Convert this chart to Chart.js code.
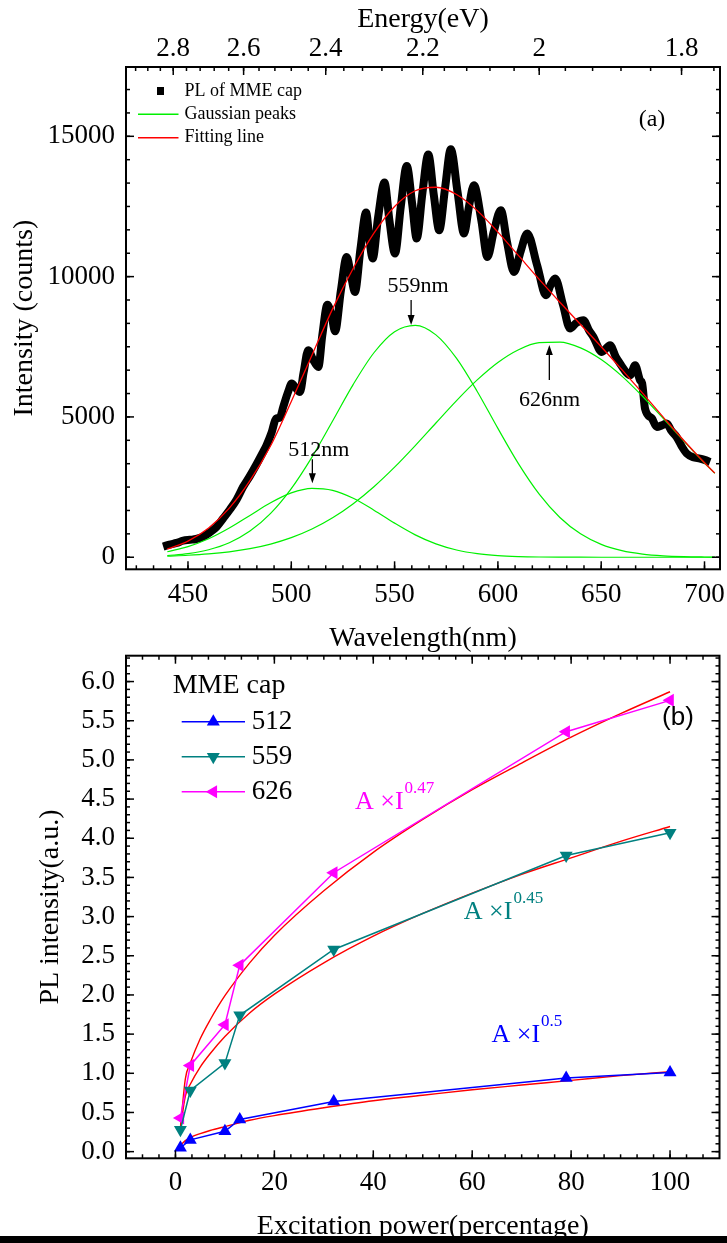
<!DOCTYPE html>
<html>
<head>
<meta charset="utf-8">
<script src="https://cdn.jsdelivr.net/npm/chart.js@4.4.1/dist/chart.umd.min.js"></script>
<style>
  html, body { margin: 0; padding: 0; background: #fff; }
  body { width: 727px; height: 1243px; position: relative; overflow: hidden; }
  #chartA { position: absolute; left: 0; top: 0; }
  #chartB { position: absolute; left: 0; top: 640px; }
  #edge { position: absolute; left: 0; top: 1236px; width: 727px; height: 7px; background: #000; }
</style>
</head>
<body>
<canvas id="chartA" width="727" height="660"></canvas>
<canvas id="chartB" width="727" height="603"></canvas>
<div id="edge"></div>
<script>
// ---- panel (a): PL spectrum and gaussian fit ----
const plWl = [438, 441, 444.5, 447.7, 451, 454, 457.4, 460.5, 463.8, 467, 470.3, 473.5, 476.7, 480, 483.2, 486, 488,
  490.5, 492.6, 494.5, 496.1, 498.5, 500.2, 502, 504.2, 506, 508.2, 510.5, 513.1, 515, 517.5, 519.5, 521.2, 524,
  526.8, 529, 530.8, 533.5, 536.2, 538, 539.4, 542, 545.1, 547.5, 550.2, 553, 555.9, 558.5, 560.7, 563.5, 566.3,
  569, 571.6, 574.5, 577.2, 580.5, 583.6, 586, 588.4, 592, 594.9, 598, 601.4, 604.5, 607.8, 611, 614.2, 619, 623.3,
  625.5, 627.7, 631.5, 634.9, 638, 641.4, 644, 646.2, 650.3, 654.3, 657, 659.1, 662, 664, 666.4, 668.8, 669.8,
  671.2, 674.5, 676.9, 679.3, 681.7, 684, 686.5, 689, 691.4, 694.5, 697.8, 700, 702.7];
const plCounts = [380, 450, 510, 590, 620, 650, 735, 880, 1080, 1380, 1700, 2050, 2510, 2900, 3315, 3700, 3990,
  4450, 4940, 4980, 5357, 5900, 6190, 6050, 5890, 6600, 7377, 7050, 6782, 7900, 9000, 8600, 8050, 9500,
  10700, 10000, 9455, 11000, 12284, 11200, 10645, 12100, 13353, 12000, 10823, 12500, 13945, 12600, 11358, 13000, 14352,
  12900, 11654, 13200, 14540, 13000, 11536, 12500, 13257, 12000, 10702, 11600, 12366, 11200, 10168, 10900, 11536, 10400, 9337,
  9700, 9932, 9000, 8150, 8350, 8446, 8100, 7851, 7316, 7555, 7150, 6903, 6600, 6486, 6842, 6308, 6200,
  5300, 4950, 4644, 4700, 4765, 4500, 4287, 3950, 3696, 3560, 3517, 3470, 3396];

const fitWl = [440, 450, 460, 470, 480, 490, 500, 510, 520, 530, 540, 550, 560, 570, 580, 590, 600, 610, 620, 630,
  640, 650, 660, 670, 680, 690, 700, 705];
const fitCounts = [295, 576, 1044, 1750, 2728, 3973, 5550, 7200, 8850, 10300, 11550, 12500, 13060, 13185, 12925, 12352,
  11587, 10746, 9902, 9088, 8296, 7503, 6687, 5847, 4995, 4158, 3366, 2996];
const peak512 = [196, 376, 657, 1039, 1491, 1941, 2292, 2454, 2383, 2100, 1677, 1215, 798, 476, 257, 126, 56, 23, 8, 3,
  1, 0, 0, 0, 0, 0, 0, 0];
const peak559 = [58, 129, 268, 517, 931, 1563, 2446, 3569, 4856, 6161, 7287, 8037, 8265, 7925, 7086, 5907, 4591, 3328,
  2249, 1417, 833, 457, 233, 111, 49, 20, 8, 5];
const peak626 = [41, 71, 119, 194, 306, 469, 697, 1005, 1406, 1907, 2512, 3209, 3978, 4784, 5582, 6319, 6940, 7395,
  7645, 7668, 7462, 7046, 6454, 5736, 4946, 4138, 3358, 2991];

const wlTicks = [450, 500, 550, 600, 650, 700];
const energyTicks = [2.8, 2.6, 2.4, 2.2, 2.0, 1.8];
const energyLabels = ['2.8', '2.6', '2.4', '2.2', '2', '1.8'];
const countTicks = [0, 5000, 10000, 15000];

// ---- panel (b): power dependence ----
const power = [1, 3, 10, 13, 32, 79, 100];
const pl512 = [0.05, 0.15, 0.26, 0.41, 0.64, 0.94, 1.01];
const pl559 = [0.28, 0.78, 1.13, 1.74, 2.58, 3.78, 4.07];
const pl626 = [0.43, 1.10, 1.62, 2.38, 3.56, 5.36, 5.76];

const fitPower = [1, 2, 3, 5, 7, 10, 15, 20, 30, 40, 50, 60, 70, 80, 90, 100];
const fit512 = [0.08, 0.14, 0.18, 0.23, 0.27, 0.32, 0.40, 0.46, 0.56, 0.65, 0.72, 0.79, 0.85, 0.91, 0.97, 1.02];
const fit559 = [0.30, 0.71, 0.86, 1.08, 1.25, 1.47, 1.77, 2.01, 2.41, 2.75, 3.04, 3.30, 3.54, 3.75, 3.96, 4.15];
const fit626 = [0.30, 0.93, 1.13, 1.44, 1.68, 1.99, 2.41, 2.76, 3.33, 3.82, 4.24, 4.62, 4.96, 5.29, 5.59, 5.87];

const powerTicks = [0, 20, 40, 60, 80, 100];
const intensityTicks = [0, 0.5, 1, 1.5, 2, 2.5, 3, 3.5, 4, 4.5, 5, 5.5, 6];

const SERIF = '"Liberation Serif", "Times New Roman", serif';
Chart.defaults.font.family = SERIF;
Chart.defaults.color = '#000';

const pts = (xs, ys) => xs.map((x, i) => ({ x, y: ys[i] }));

function steps(from, to, step) {
  const out = [];
  for (let v = from; v <= to + 1e-9; v += step) out.push(+v.toFixed(4));
  return out;
}

// inward tick marks on all four sides + the box
function frame(sides) {
  return {
    id: 'frame',
    afterDatasetsDraw(chart) {
      const { ctx, chartArea: a } = chart;
      ctx.save();
      ctx.strokeStyle = '#000';
      ctx.lineWidth = 1.5;
      for (const s of sides) {
        const scale = chart.scales[s.scale];
        const mark = (v, len) => {
          const p = scale.getPixelForValue(v);
          ctx.beginPath();
          if (s.edge === 'bottom' || s.edge === 'top') {
            if (p <= a.left + 1 || p >= a.right - 1) return;
            const y0 = s.edge === 'bottom' ? a.bottom : a.top;
            ctx.moveTo(p, y0);
            ctx.lineTo(p, y0 + (s.edge === 'bottom' ? -len : len));
          } else {
            if (p <= a.top + 1 || p >= a.bottom - 1) return;
            const x0 = s.edge === 'left' ? a.left : a.right;
            ctx.moveTo(x0, p);
            ctx.lineTo(x0 + (s.edge === 'left' ? len : -len), p);
          }
          ctx.stroke();
        };
        s.minor.forEach(v => mark(v, 4));
        s.major.forEach(v => mark(v, 8));
      }
      ctx.lineWidth = 2;
      ctx.strokeRect(a.left, a.top, a.right - a.left, a.bottom - a.top);
      ctx.restore();
    }
  };
}

function arrow(ctx, x, y1, y2) {
  const dir = y2 > y1 ? 1 : -1;
  ctx.beginPath();
  ctx.moveTo(x, y1);
  ctx.lineTo(x, y2 - dir * 8);
  ctx.stroke();
  ctx.beginPath();
  ctx.moveTo(x, y2);
  ctx.lineTo(x - 3.5, y2 - dir * 10);
  ctx.lineTo(x + 3.5, y2 - dir * 10);
  ctx.closePath();
  ctx.fill();
}

const noAxisLines = { grid: { display: false, drawTicks: false }, border: { display: false } };
const tickFont = { size: 27 };
const titleFont = { size: 28 };

// ---------------- chart (a) ----------------
const annotateA = {
  id: 'annotateA',
  afterDraw(chart) {
    const { ctx, chartArea: a, scales: { x, y } } = chart;
    const ds = chart.data.datasets;
    ctx.save();
    ctx.fillStyle = '#000';
    ctx.strokeStyle = '#000';
    ctx.lineWidth = 1.3;
    ctx.font = '22px ' + SERIF;
    ctx.textAlign = 'center';
    ctx.textBaseline = 'middle';
    const notes = [
      { text: '559nm', tx: 561.3, ty: 9666, ax: 558, from: 9167, to: 8277 },
      { text: '512nm', tx: 513.3, ty: 3823, ax: 510.2, from: 3492, to: 2637 },
      { text: '626nm', tx: 625, ty: 5605, ax: 624.9, from: 6317, to: 7564 }
    ];
    notes.forEach(n => {
      ctx.fillText(n.text, x.getPixelForValue(n.tx), y.getPixelForValue(n.ty));
      arrow(ctx, x.getPixelForValue(n.ax), y.getPixelForValue(n.from), y.getPixelForValue(n.to));
    });

    // legend
    ctx.font = '18px ' + SERIF;
    ctx.textAlign = 'left';
    const data = ds[4], gauss = ds[1], fit = ds[0];
    const lx = a.left, ly = a.top;
    ctx.fillStyle = data.borderColor;
    ctx.fillRect(lx + 31, ly + 20, 7, 8);
    ctx.lineWidth = 1.5;
    ctx.strokeStyle = gauss.borderColor;
    ctx.beginPath(); ctx.moveTo(lx + 12, ly + 47.3); ctx.lineTo(lx + 52.5, ly + 47.3); ctx.stroke();
    ctx.strokeStyle = fit.borderColor;
    ctx.beginPath(); ctx.moveTo(lx + 12, ly + 70.7); ctx.lineTo(lx + 52.5, ly + 70.7); ctx.stroke();
    ctx.fillStyle = '#000';
    ctx.fillText(data.label, lx + 58.5, ly + 24);
    ctx.fillText(gauss.label, lx + 58.5, ly + 47.3);
    ctx.fillText(fit.label, lx + 58.5, ly + 70.7);

    ctx.font = '24px ' + SERIF;
    ctx.textAlign = 'center';
    ctx.fillText('(a)', a.right - 68, a.top + 53);
    ctx.restore();
  }
};

new Chart(document.getElementById('chartA'), {
  type: 'line',
  data: {
    datasets: [
      { label: 'Fitting line', data: pts(fitWl, fitCounts), borderColor: '#ff0000', borderWidth: 1.3,
        pointRadius: 0, cubicInterpolationMode: 'monotone' },
      { label: 'Gaussian peaks', data: pts(fitWl, peak512), borderColor: '#00f000', borderWidth: 1.2,
        pointRadius: 0, cubicInterpolationMode: 'monotone' },
      { label: 'Gaussian peaks', data: pts(fitWl, peak559), borderColor: '#00f000', borderWidth: 1.2,
        pointRadius: 0, cubicInterpolationMode: 'monotone' },
      { label: 'Gaussian peaks', data: pts(fitWl, peak626), borderColor: '#00f000', borderWidth: 1.2,
        pointRadius: 0, cubicInterpolationMode: 'monotone' },
      { label: 'PL of MME cap', data: pts(plWl, plCounts), borderColor: '#000000', borderWidth: 8,
        borderJoinStyle: 'round', pointRadius: 0, cubicInterpolationMode: 'monotone' }
    ]
  },
  options: {
    responsive: false,
    animation: false,
    devicePixelRatio: 1,
    layout: { padding: { left: 0, right: 7, top: 0, bottom: 0 } },
    plugins: { legend: { display: false }, tooltip: { enabled: false } },
    scales: {
      x: {
        type: 'linear', position: 'bottom', min: 420, max: 707.5, ...noAxisLines,
        afterBuildTicks: s => { s.ticks = wlTicks.map(v => ({ value: v })); },
        afterFit: s => { s.height = 90.7; s.paddingLeft = 0; s.paddingRight = 0; },
        ticks: { padding: 9, font: tickFont, maxRotation: 0, minRotation: 0, autoSkip: false, callback: v => String(v) },
        title: { display: true, text: 'Wavelength(nm)', font: titleFont, padding: { top: 0, bottom: 5 } }
      },
      xTop: {
        type: 'linear', position: 'top', min: 420, max: 707.5, ...noAxisLines,
        afterBuildTicks: s => { s.ticks = energyTicks.map(e => ({ value: 1240 / e })); },
        afterFit: s => { s.height = 67; s.paddingLeft = 0; s.paddingRight = 0; },
        ticks: { padding: 2, font: tickFont, maxRotation: 0, minRotation: 0, autoSkip: false,
          callback: (v, i) => energyLabels[i] },
        title: { display: true, text: 'Energy(eV)', font: titleFont, padding: { top: 3, bottom: 0 } }
      },
      y: {
        type: 'linear', position: 'left', min: -430, max: 17470, ...noAxisLines,
        afterBuildTicks: s => { s.ticks = countTicks.map(v => ({ value: v })); },
        afterFit: s => { s.width = 126; s.paddingTop = 0; s.paddingBottom = 0; },
        ticks: { padding: 11, font: tickFont, autoSkip: false, callback: v => String(v) },
        title: { display: true, text: 'Intensity (counts)', font: titleFont, padding: { top: 8, bottom: 0 } }
      }
    }
  },
  plugins: [
    frame([
      { scale: 'x', edge: 'bottom', major: wlTicks, minor: steps(425, 707, 50 / 6) },
      { scale: 'xTop', edge: 'top', major: energyTicks.map(e => 1240 / e), minor: steps(1.76, 2.92, 0.04).map(e => 1240 / e) },
      { scale: 'y', edge: 'left', major: countTicks, minor: steps(0, 17400, 5000 / 6) },
      { scale: 'y', edge: 'right', major: countTicks, minor: steps(0, 17400, 5000 / 6) }
    ]),
    annotateA
  ]
});

// ---------------- chart (b) ----------------
const seriesB = [
  { label: '512', values: pl512, fit: fit512, color: '#0000ff', rotation: 0 },
  { label: '559', values: pl559, fit: fit559, color: '#008080', rotation: 180 },
  { label: '626', values: pl626, fit: fit626, color: '#ff00ff', rotation: 270 }
];

const annotateB = {
  id: 'annotateB',
  afterDraw(chart) {
    const { ctx, chartArea: a, scales: { x, y } } = chart;
    ctx.save();
    ctx.textBaseline = 'middle';
    ctx.textAlign = 'left';
    ctx.fillStyle = '#000';
    ctx.font = '28px ' + SERIF;
    ctx.fillText('MME cap', a.left + 46.7, a.top + 30.3);
    ctx.font = '27px ' + SERIF;
    seriesB.forEach((s, i) => {
      const rowY = a.top + 66 + i * 35;
      ctx.strokeStyle = s.color;
      ctx.fillStyle = s.color;
      ctx.lineWidth = 1.5;
      ctx.beginPath(); ctx.moveTo(a.left + 55.7, rowY); ctx.lineTo(a.left + 119, rowY); ctx.stroke();
      Chart.helpers.drawPoint(ctx, { pointStyle: 'triangle', radius: 7.5, rotation: s.rotation, borderWidth: 0 }, a.left + 87.3, rowY);
      ctx.fillStyle = '#000';
      ctx.fillText(s.label, a.left + 125.7, rowY);
    });

    ctx.font = '26px "Liberation Sans", Arial, sans-serif';
    ctx.textAlign = 'center';
    ctx.fillText('(b)', a.right - 41.5, a.top + 62.3);

    // power-law labels
    const laws = [
      { color: '#ff00ff', x: 36.3, y: 4.375, exp: '0.47' },
      { color: '#008080', x: 58.3, y: 2.97, exp: '0.45' },
      { color: '#0000ff', x: 63.9, y: 1.40, exp: '0.5' }
    ];
    ctx.textAlign = 'left';
    ctx.textBaseline = 'alphabetic';
    laws.forEach(l => {
      const px = x.getPixelForValue(l.x), py = y.getPixelForValue(l.y);
      ctx.fillStyle = l.color;
      ctx.font = '26px ' + SERIF;
      const main = 'A \u00D7I';
      ctx.fillText(main, px, py);
      const w = ctx.measureText(main).width;
      ctx.font = '17px ' + SERIF;
      ctx.fillText(l.exp, px + w + 1, py - 16);
    });
    ctx.restore();
  }
};

const datasetsB = [];
seriesB.forEach(s => {
  datasetsB.push({ label: s.label, data: pts(power, s.values), borderColor: s.color, backgroundColor: s.color,
    borderWidth: 1.5, pointStyle: 'triangle', pointRadius: 7.5, pointRotation: s.rotation, pointBorderWidth: 0,
    tension: 0, order: 1 });
});
seriesB.forEach(s => {
  datasetsB.push({ label: s.label + ' fit', data: pts(fitPower, s.fit), borderColor: '#ff0000', borderWidth: 1.4,
    pointRadius: 0, cubicInterpolationMode: 'monotone', order: 2 });
});

new Chart(document.getElementById('chartB'), {
  type: 'line',
  data: { datasets: datasetsB },
  options: {
    responsive: false,
    animation: false,
    devicePixelRatio: 1,
    layout: { padding: { left: 0, right: 4, top: 15.7, bottom: 0 } },
    plugins: { legend: { display: false }, tooltip: { enabled: false } },
    scales: {
      x: {
        type: 'linear', position: 'bottom', min: -10, max: 110, ...noAxisLines,
        afterBuildTicks: s => { s.ticks = powerTicks.map(v => ({ value: v })); },
        afterFit: s => { s.height = 84.7; s.paddingLeft = 0; s.paddingRight = 0; },
        ticks: { padding: 8, font: tickFont, maxRotation: 0, minRotation: 0, autoSkip: false, callback: v => String(v) },
        title: { display: true, text: 'Excitation power(percentage)', font: titleFont, padding: { top: 0, bottom: 0 } }
      },
      y: {
        type: 'linear', position: 'left', min: -0.085, max: 6.33, ...noAxisLines,
        afterBuildTicks: s => { s.ticks = intensityTicks.map(v => ({ value: v })); },
        afterFit: s => { s.width = 126; s.paddingTop = 0; s.paddingBottom = 0; },
        ticks: { padding: 11, font: tickFont, autoSkip: false, callback: v => v.toFixed(1) },
        title: { display: true, text: 'PL intensity(a.u.)', font: titleFont, padding: { top: 34, bottom: 0 } }
      }
    }
  },
  plugins: [
    frame([
      { scale: 'x', edge: 'bottom', major: powerTicks, minor: steps(-10, 110, 20 / 6) },
      { scale: 'x', edge: 'top', major: powerTicks, minor: steps(-10, 110, 20 / 6) },
      { scale: 'y', edge: 'left', major: intensityTicks, minor: steps(0, 6.3, 0.1) },
      { scale: 'y', edge: 'right', major: intensityTicks, minor: steps(0, 6.3, 0.1) }
    ]),
    annotateB
  ]
});
</script>
</body>
</html>
